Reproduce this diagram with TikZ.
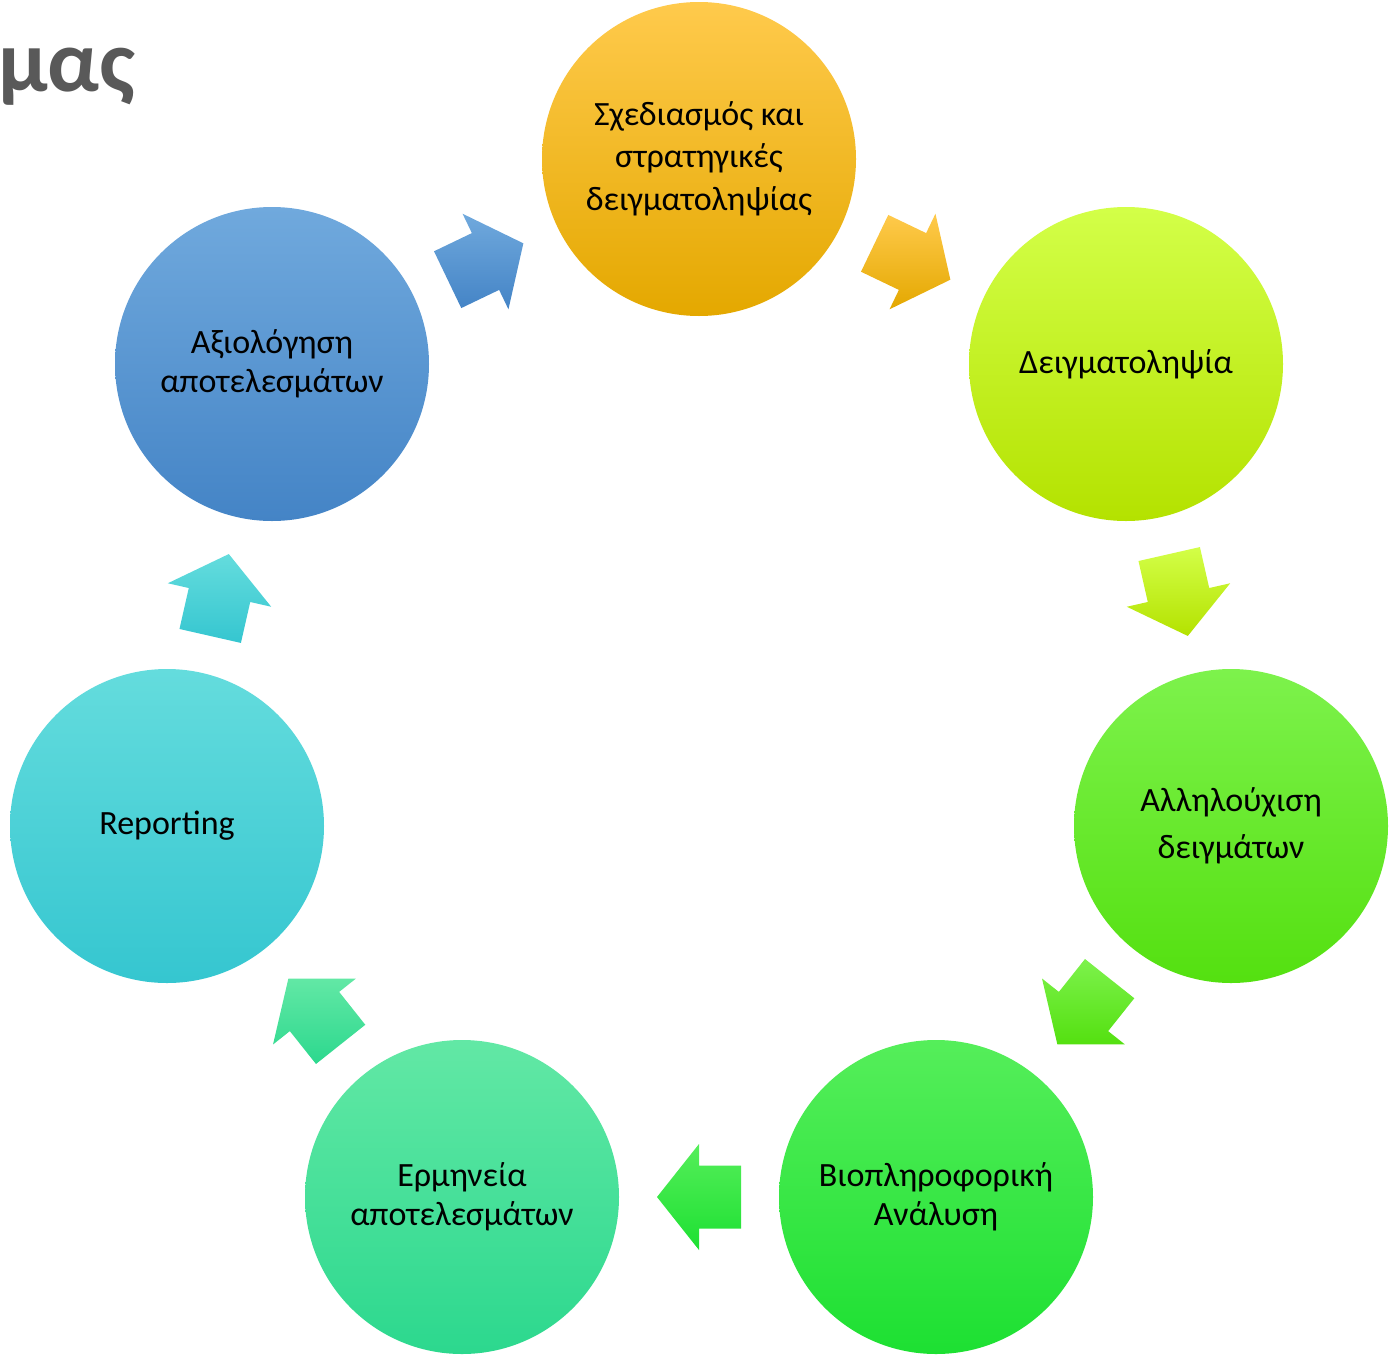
\documentclass[tikz,border=0pt]{standalone}
\usepackage{fontspec}
\setmainfont{Carlito}
\usetikzlibrary{calc}
\definecolor{oT}{RGB}{255,202,76}\definecolor{oM}{RGB}{255,192,0}\definecolor{oB}{RGB}{228,168,0}
\definecolor{yT}{RGB}{211,255,72}\definecolor{yM}{RGB}{200,255,12}\definecolor{yB}{RGB}{180,226,0}
\definecolor{gT}{RGB}{125,242,76}\definecolor{gM}{RGB}{102,250,30}\definecolor{gB}{RGB}{84,224,16}
\definecolor{bgT}{RGB}{85,238,90}\definecolor{bgM}{RGB}{53,238,64}\definecolor{bgB}{RGB}{29,224,50}
\definecolor{sT}{RGB}{98,232,165}\definecolor{sM}{RGB}{64,228,154}\definecolor{sB}{RGB}{44,216,142}
\definecolor{cT}{RGB}{100,220,221}\definecolor{cM}{RGB}{69,221,226}\definecolor{cB}{RGB}{53,198,208}
\definecolor{blT}{RGB}{112,169,221}\definecolor{blM}{RGB}{91,154,216}\definecolor{blB}{RGB}{68,132,198}
\definecolor{titlegray}{RGB}{89,89,89}
\tikzset{
  stage/.style={circle, minimum size=314pt, inner sep=0pt, align=center, text=black,
    font=\fontsize{34}{41.5}\selectfont},
}
\newcommand\blockarrow[5]{%
  \coordinate (#1) at ($(#2)!0.5!(#3)$);
  \shade[top color=#4, bottom color=#5] let \p1=(#2), \p2=(#3), \n1={atan2(\y2-\y1,\x2-\x1)} in
    ($(#1)+(\n1:-42pt)+({\n1+90}:31.5pt)$) -- ($(#1)+({\n1+90}:31.5pt)$) -- ($(#1)+({\n1+90}:53pt)$)
    -- ($(#1)+(\n1:42pt)$) -- ($(#1)+({\n1-90}:53pt)$) -- ($(#1)+({\n1-90}:31.5pt)$)
    -- ($(#1)+(\n1:-42pt)+({\n1-90}:31.5pt)$) -- cycle;
}
\begin{document}
\begin{tikzpicture}[x=1pt,y=-1pt]
\useasboundingbox (0,0) rectangle (1395,1355);
\node[anchor=base west, inner sep=0pt, text=titlegray, font=\fontsize{88}{100}\selectfont\bfseries] (title) at (-2,91) {μας};

\node[stage, top color=oT, middle color=oM, bottom color=oB] (c1) at (699,159) {Σχεδιασμός και\\στρατηγικές\\[2pt]δειγματοληψίας};
\node[stage, top color=yT, middle color=yM, bottom color=yB] (c2) at (1126,364) {Δειγματοληψία};
\node[stage, top color=gT, middle color=gM, bottom color=gB] (c3) at (1231,826) {Αλληλούχιση\\[6pt]δειγμάτων};
\node[stage, top color=bgT, middle color=bgM, bottom color=bgB] (c4) at (936,1197) {Βιοπληροφορική\\[-3pt]Ανάλυση};
\node[stage, top color=sT, middle color=sM, bottom color=sB] (c5) at (462,1197) {Ερμηνεία\\[-3pt]αποτελεσμάτων};
\node[stage, top color=cT, middle color=cM, bottom color=cB] (c6) at (167,826) {Reporting};
\node[stage, top color=blT, middle color=blM, bottom color=blB] (c7) at (272,364) {Αξιολόγηση\\[-3pt]αποτελεσμάτων};

\blockarrow{m1}{c7}{c1}{blT}{blB}
\blockarrow{m2}{c1}{c2}{oT}{oB}
\blockarrow{m3}{c2}{c3}{yT}{yB}
\blockarrow{m4}{c3}{c4}{gT}{gB}
\blockarrow{m5}{c4}{c5}{bgT}{bgB}
\blockarrow{m6}{c5}{c6}{sT}{sB}
\blockarrow{m7}{c6}{c7}{cT}{cB}
\end{tikzpicture}
\end{document}
